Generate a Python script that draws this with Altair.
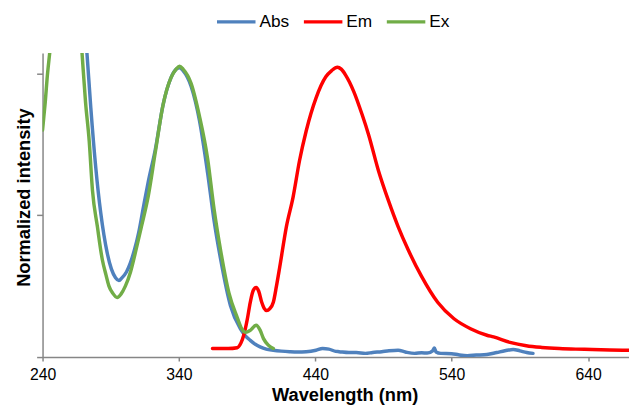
import altair as alt
import pandas as pd

# Ex (green)
ex_nm = [240.0, 241.0, 242.0, 243.3, 245.3, 248, 252, 258, 264, 268.9, 271.5, 274.2, 276.6, 280.2,
         283.8, 286.5, 288.7, 291.5, 294.7, 297.5, 300.7, 304.5, 308.0, 312.5, 317.6, 322.6, 328.4,
         334.2, 338, 340.5, 343, 348.9, 355, 361, 365.8, 370.6, 376.7, 382.7, 386, 389, 392.5,
         396.6, 399.5, 402, 405.5, 409.2]
ex_val = [0.80, 0.85, 0.90, 0.98, 1.075, 1.20, 1.40, 1.55, 1.40, 1.075, 0.90, 0.762, 0.588, 0.46,
          0.344, 0.29, 0.25, 0.225, 0.21, 0.222, 0.25, 0.30, 0.367, 0.46, 0.57, 0.72, 0.89,
          0.985, 1.015, 1.025, 1.015, 0.965, 0.85, 0.70, 0.52, 0.375, 0.225, 0.14, 0.10, 0.087, 0.095,
          0.112, 0.095, 0.065, 0.042, 0.03]

# Abs (blue)
abs_nm = [262, 268, 272.5, 275.4, 279.0, 282.7, 285, 287.4, 290.5, 293.5, 296, 298.3, 301.5, 304.4,
          307.5, 310.4, 314, 317.6, 322.6, 328.4, 334.2, 338, 340.5, 343, 348.9, 355, 361, 365.8,
          370.6, 377.8, 385, 388.7, 392.3, 396, 399.5, 404, 409.2, 415, 421.2, 427, 433.3, 440.5,
          445.3, 449.9, 455, 457.4, 464.6, 470, 476.7, 482, 488.7, 494, 500.7, 506, 512.8, 518,
          522, 526, 527.3, 528.5, 532, 540, 545, 551.4, 558, 565.8, 573, 579, 585.1, 590, 595, 599.6]
abs_val = [1.6, 1.35, 1.075, 0.878, 0.669, 0.507, 0.43, 0.367, 0.31, 0.28, 0.27, 0.28, 0.30, 0.332,
           0.38, 0.437, 0.53, 0.62, 0.73, 0.89, 0.985, 1.015, 1.02, 1.01, 0.955, 0.835, 0.65, 0.48,
           0.344, 0.181, 0.10, 0.075, 0.059, 0.045, 0.036, 0.028, 0.024, 0.021, 0.019, 0.018, 0.019, 0.024,
           0.03, 0.028, 0.02, 0.019, 0.016, 0.016, 0.013, 0.016, 0.019, 0.022, 0.024, 0.018, 0.013, 0.015,
           0.014, 0.022, 0.032, 0.018, 0.013, 0.012, 0.008, 0.005, 0.007, 0.009, 0.016, 0.022, 0.027, 0.022, 0.016, 0.013]

# Em (red)
em_nm = [364.6, 370, 376, 382.7, 385.5, 387.5, 390, 392.3, 394.5, 396.6, 398.5, 400.7, 402.5, 404.4,
         406.5, 409.2, 411.5, 414.0, 418.8, 423.7, 428.4, 433.3, 440.5, 447.7, 452, 456.2, 459, 462.2,
         468.2, 474.3, 479, 486.3, 493.5, 500.7, 508, 517.7, 529.7, 541.7, 553.8, 565.8, 570.7, 582.7,
         594.7, 606, 618.9, 631, 643, 656, 670]
em_val = [0.03, 0.03, 0.03, 0.033, 0.05, 0.077, 0.13, 0.193, 0.235, 0.245, 0.232, 0.193, 0.172, 0.164,
          0.17, 0.193, 0.25, 0.32, 0.46, 0.564, 0.692, 0.797, 0.913, 0.988, 1.01, 1.022, 1.015, 0.994,
          0.936, 0.855, 0.785, 0.657, 0.553, 0.46, 0.379, 0.286, 0.193, 0.135, 0.10, 0.077, 0.071, 0.052,
          0.04, 0.034, 0.03, 0.028, 0.027, 0.025, 0.024]

series_names = ["Abs", "Em", "Ex"]
series_colors = ["#4F81BD", "#FF0000", "#71AD47"]
x_ticks = [240, 340, 440, 540, 640]
y_ticks = [0, 0.5, 1.0]

rows = []
for name, xs, ys in [("Abs", abs_nm, abs_val), ("Em", em_nm, em_val), ("Ex", ex_nm, ex_val)]:
    for i, (x, y) in enumerate(zip(xs, ys)):
        rows.append({"series": name, "nm": x, "val": y, "order": i})
df = pd.DataFrame(rows)

FONT = "Liberation Sans"
GRAY = "#868686"

chart = alt.Chart(df).mark_line(clip=True, strokeWidth=3.5, strokeCap="round", strokeJoin="round",
                                interpolate="monotone").encode(
    x=alt.X("nm:Q", scale=alt.Scale(domain=[240, 670], nice=False, zero=False),
            axis=alt.Axis(values=x_ticks, title="Wavelength (nm)", grid=False, tickSize=4,
                          labelPadding=6, labelFlush=False, labelOverlap=False,
                          titleBaseline="alphabetic", titleAnchor="start", titleAlign="center",
                          titleX=306, titleY=44)),
    y=alt.Y("val:Q", scale=alt.Scale(domain=[0, 1.072], nice=False),
            axis=alt.Axis(values=y_ticks, labels=False, title="Normalized intensity", grid=False,
                          tickSize=6, titleAngle=270, titleBaseline="alphabetic", titleAlign="center",
                          titleX=-13.6, titleY=146)),
    color=alt.Color("series:N", scale=alt.Scale(domain=series_names, range=series_colors),
                    legend=alt.Legend(title=None, orient="none", direction="horizontal",
                                      legendX=174.7, legendY=-53, symbolType="stroke",
                                      symbolSize=1521, symbolStrokeWidth=3.5, columnPadding=7,
                                      labelOffset=2, padding=0, labelFontSize=17.5, labelFont=FONT,
                                      labelColor="black")),
    order="order:Q",
    detail="series:N",
).properties(
    width=594, height=308,
    padding={"left": 35, "top": 43, "right": 0, "bottom": 46},
    autosize=alt.AutoSizeParams(type="none"),
).configure_view(stroke=None).configure_axis(
    domainColor=GRAY, tickColor=GRAY, domainWidth=1.5, tickWidth=1.5,
    labelFont=FONT, labelFontSize=16, labelColor="black",
    titleFont=FONT, titleFontSize=18.5, titleFontWeight="bold", titleColor="black",
)

chart.save("out.html", embed_options={"renderer": "svg", "actions": False})
